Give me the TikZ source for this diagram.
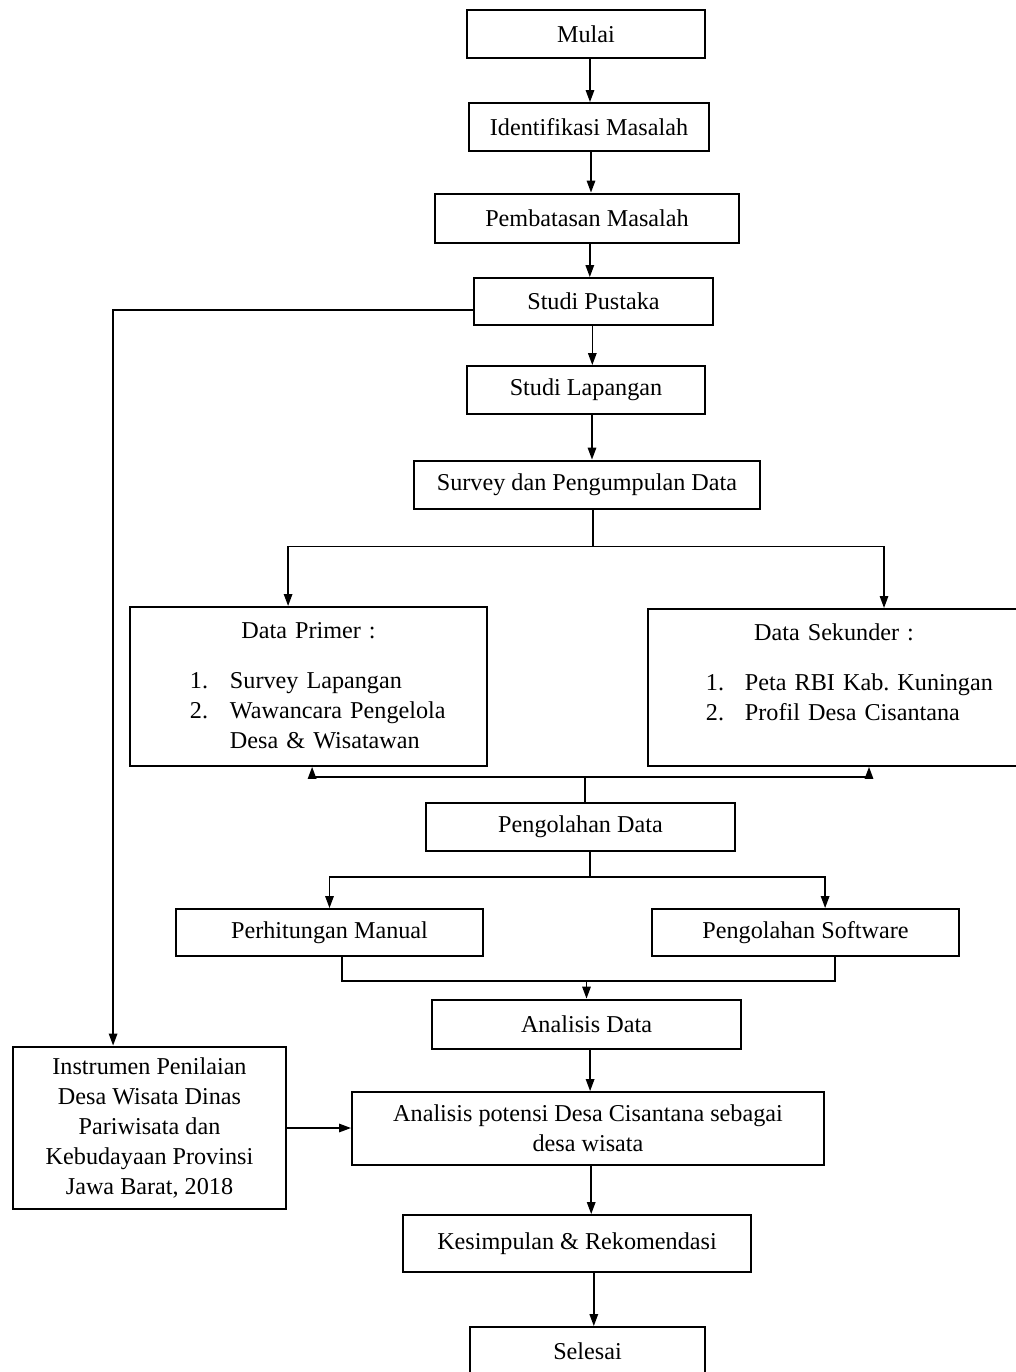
\documentclass[tikz,border=0pt]{standalone}
\usepackage{fontspec}
\setmainfont{Liberation Serif}
\usetikzlibrary{arrows.meta,positioning}

\begin{document}
\frenchspacing
\begin{tikzpicture}[x=0.025cm, y=-0.025cm,
  font=\fontsize{17.2}{21.3}\selectfont,
  kotak/.style={draw, line width=1.3pt, inner sep=0pt, align=center},
  kotaktebal/.style={kotak, line width=2pt},
  daftar/.style={draw, line width=1.3pt, inner sep=0pt, anchor=north, text height=0.8cm},
  garis/.style={line width=1.1pt},
  panah/.style={garis, -{Triangle[length=8.5pt,width=6pt]}}]
\useasboundingbox (0,0) rectangle (1015,1372);
% Alur utama
\node[kotak, minimum width=5.95cm, minimum height=1.2cm] (mulai) at (586,34) {Mulai};
\node[kotak, minimum width=6cm, minimum height=1.2cm] (identifikasi) at (589,127) {Identifikasi Masalah};
\node[kotaktebal, minimum width=7.6cm, minimum height=1.225cm] (pembatasan) at (587,218.5) {Pembatasan Masalah};
\node[kotak, minimum width=5.975cm, minimum height=1.175cm] (pustaka) at (593.5,301.5) {Studi Pustaka};
\node[kotak, minimum width=5.95cm, minimum height=1.2cm] (lapangan) at (586,390) {Studi Lapangan};
\node[kotaktebal, minimum width=8.65cm, minimum height=1.2cm] (survey) at (587,485) {Survey dan Pengumpulan Data};
% Data primer dan sekunder
\node[daftar, text width=8.925cm, text depth=3.175cm] (primer) at (308.5,606) {%
  {\centering Data Primer :\par}\vspace{0.5cm}
  \hspace*{1.5cm}\begin{tabular}[t]{@{}p{1cm}@{}l@{}}
  1. & Survey Lapangan\\
  2. & Wawancara Pengelola\\
     & Desa \& Wisatawan
  \end{tabular}};
\node[daftar, text width=9.3cm, text depth=3.125cm] (sekunder) at (834,608) {%
  {\centering Data Sekunder :\par}\vspace{0.5cm}
  \hspace*{1.45cm}\begin{tabular}[t]{@{}p{0.975cm}@{}l@{}}
  1. & Peta RBI Kab. Kuningan\\
  2. & Profil Desa Cisantana
  \end{tabular}};
\node[kotak, minimum width=7.725cm, minimum height=1.2cm] (olah) at (580.5,827) {Pengolahan Data};
\node[kotak, minimum width=7.675cm, minimum height=1.175cm] (manual) at (329.5,932.5) {Perhitungan Manual};
\node[kotak, minimum width=7.675cm, minimum height=1.175cm] (software) at (805.5,932.5) {Pengolahan Software};
\node[kotaktebal, minimum width=7.725cm, minimum height=1.225cm] (analisis) at (586.5,1024.5) {Analisis Data};
% Instrumen dan hasil
\node[kotaktebal, minimum width=6.825cm, minimum height=4.05cm] (instrumen) at (149.5,1128) {Instrumen Penilaian\\Desa Wisata Dinas\\Pariwisata dan\\Kebudayaan Provinsi\\Jawa Barat, 2018};
\node[kotak, minimum width=11.8cm, minimum height=1.825cm] (potensi) at (588,1128.5) {Analisis potensi Desa Cisantana sebagai\\desa wisata};
\node[kotak, minimum width=8.7cm, minimum height=1.425cm] (kesimpulan) at (577,1243.5) {Kesimpulan \& Rekomendasi};
\node[kotak, minimum width=5.875cm, minimum height=1.2cm] (selesai) at (587.5,1351) {Selesai};
% Panah lurus
\draw[panah] ([xshift=0.1cm]mulai.south) -- ([xshift=0.1cm]mulai.south |- identifikasi.north);
\draw[panah] ([xshift=0.05cm]identifikasi.south) -- ([xshift=0.05cm]identifikasi.south |- pembatasan.north);
\draw[panah] ([xshift=0.07cm]pembatasan.south) -- ([xshift=0.07cm]pembatasan.south |- pustaka.north);
\draw[panah] ([xshift=-0.03cm]pustaka.south) -- ([xshift=-0.03cm]pustaka.south |- lapangan.north);
\draw[panah] ([xshift=0.15cm]lapangan.south) -- ([xshift=0.15cm]lapangan.south |- survey.north);
% Cabang ke data primer / sekunder
\draw[garis] ([xshift=0.15cm]survey.south) -- ++(0,36) coordinate (cabang1);
\draw[panah] (cabang1) -| ([xshift=-0.51cm]primer.north);
\draw[panah] (cabang1) -| ([xshift=1.25cm]sekunder.north);
% Pengolahan data ke atas
\draw[garis] ([xshift=0.11cm]olah.north) -- ++(0,-25) coordinate (cabang2);
\draw[panah] (cabang2) -| ([xshift=0.09cm]primer.south);
\draw[panah] (cabang2) -| ([xshift=0.875cm]sekunder.south);
% Pengolahan data ke bawah
\draw[garis] ([xshift=0.24cm]olah.south) -- ++(0,25) coordinate (cabang3);
\draw[panah] (cabang3) -| (manual.north);
\draw[panah] (cabang3) -| ([xshift=0.49cm]software.north);
\draw[garis] ([xshift=0.31cm]manual.south) -- ++(0,24) coordinate (gabung) -| ([xshift=0.74cm]software.south);
\draw[panah] (gabung -| analisis.north) -- (analisis.north);
% Analisis sampai selesai
\draw[panah] ([xshift=0.09cm]analisis.south) -- ([xshift=0.09cm]analisis.south |- potensi.north);
\draw[panah] (instrumen.east) -- (instrumen.east -| potensi.west);
\draw[panah] ([xshift=0.08cm]potensi.south) -- ([xshift=0.08cm]potensi.south |- kesimpulan.north);
\draw[panah] ([xshift=0.42cm]kesimpulan.south) -- ([xshift=0.42cm]kesimpulan.south |- selesai.north);
% Studi pustaka ke instrumen
\draw[panah] ([yshift=-0.21cm]pustaka.west) -| ([xshift=-0.91cm]instrumen.north);
\end{tikzpicture}
\end{document}
